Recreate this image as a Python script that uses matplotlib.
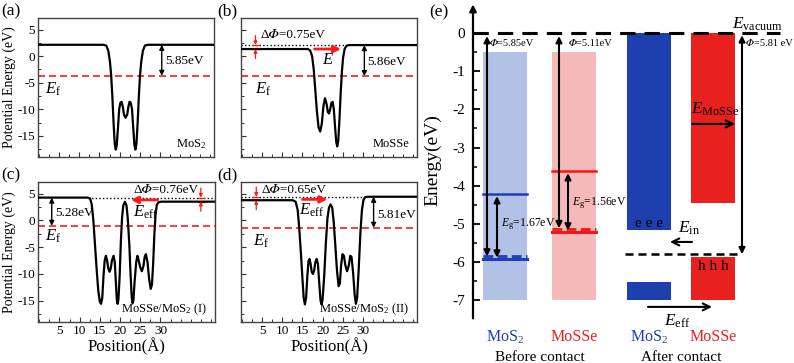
import matplotlib
matplotlib.use('Agg')
import matplotlib.pyplot as plt
from matplotlib.ticker import FixedLocator, MultipleLocator

plt.rcParams['font.family'] = ['Liberation Serif', 'STIXGeneral', 'DejaVu Serif']
plt.rcParams['mathtext.fontset'] = 'custom'
plt.rcParams['mathtext.rm'] = 'Liberation Serif'
plt.rcParams['mathtext.it'] = 'Liberation Serif:italic'
plt.rcParams['mathtext.bf'] = 'Liberation Serif:bold'
plt.rcParams['axes.unicode_minus'] = False

PHI = '\U0001D6F7'   # mathematical italic capital phi

# ---------------- data: planar-averaged potentials ----------------
pos_a = [-0.3, 16.0, 16.7, 17.2, 17.6, 17.9, 18.2, 18.5, 18.8, 19.05, 19.3, 19.6, 19.9, 20.2, 20.5,
         20.8, 21.1, 21.5, 21.9, 22.2, 22.5, 22.8, 23.1, 23.4, 23.7, 23.95, 24.2, 24.5, 24.8, 25.1,
         25.4, 25.8, 26.3, 27.0, 43.5]
pot_a = [2.15, 2.15, 2.0, 1.0, -1.0, -3.5, -7.5, -12.5, -16.5, -17.6, -16.8, -13.5, -10.0, -8.8, -8.6,
         -9.5, -11.0, -11.6, -11.0, -9.5, -8.6, -8.8, -10.0, -13.5, -16.8, -17.6, -16.5, -12.5, -7.5, -3.5,
         -1.0, 1.0, 2.0, 2.15, 2.15]

pos_b = [-0.3, 16.3, 16.9, 17.4, 17.8, 18.2, 18.6, 19.0, 19.4, 19.8, 20.2, 20.6, 21.0, 21.3, 21.6,
         21.9, 22.2, 22.5, 22.8, 23.1, 23.4, 23.65, 23.9, 24.2, 24.5, 24.8, 25.1, 25.5, 26.0, 26.7, 43.5]
pot_b = [1.35, 1.35, 1.1, 0.0, -2.5, -6.5, -10.5, -13.4, -14.2, -12.8, -9.5, -7.9, -9.0, -10.5, -10.8,
         -10.0, -8.8, -8.6, -10.0, -13.2, -16.2, -17.0, -16.0, -12.0, -7.0, -3.0, -0.3, 1.4, 2.0, 2.1, 2.1]

pos_c = [-0.3, 12.0, 12.6, 13.0, 13.4, 13.8, 14.2, 14.6, 15.0, 15.3, 15.6, 15.9, 16.2, 16.5, 16.8,
         17.1, 17.4, 17.7, 18.0, 18.4, 18.7, 19.0, 19.2, 19.4, 19.6, 19.9, 20.2, 20.5, 20.8, 21.2,
         21.6, 21.9, 22.3, 22.6, 22.9, 23.1, 23.3, 23.6, 24.0, 24.3, 24.6, 25.0, 25.4, 25.8, 26.1,
         26.4, 26.8, 27.2, 27.6, 27.9, 28.2, 28.5, 28.8, 29.1, 29.5, 30.2, 43.5]
pot_c = [4.28, 4.28, 4.1, 3.0, 0.0, -4.5, -9.0, -13.0, -15.2, -15.6, -14.5, -10.5, -7.5, -6.6, -7.5,
         -9.0, -9.6, -9.0, -7.5, -6.6, -7.8, -12.0, -14.8, -15.6, -14.8, -10.5, -4.0, 0.5, 2.8, 3.5,
         2.8, 0.5, -4.5, -10.0, -14.5, -15.5, -15.0, -11.5, -7.8, -6.6, -7.4, -8.8, -9.5, -8.5, -6.8,
         -6.3, -7.8, -11.0, -12.8, -12.0, -8.0, -2.5, 1.2, 2.9, 3.4, 3.52, 3.52]

pos_d = [-0.3, 12.6, 13.3, 13.8, 14.2, 14.6, 15.0, 15.3, 15.6, 15.9, 16.2, 16.5, 16.75, 17.0, 17.3,
         17.6, 17.9, 18.2, 18.55, 18.85, 19.2, 19.5, 19.75, 20.0, 20.4, 20.8, 21.2, 21.6, 22.0, 22.4,
         22.8, 23.2, 23.6, 24.0, 24.3, 24.6, 24.95, 25.3, 25.7, 26.1, 26.5, 26.9, 27.2, 27.6, 28.0,
         28.3, 28.6, 29.0, 29.4, 29.8, 30.2, 30.6, 31.2, 43.5]
pot_d = [3.79, 3.79, 3.5, 2.0, -1.5, -6.0, -11.0, -14.5, -15.7, -14.5, -10.5, -7.6, -7.2, -8.0, -9.6,
         -10.0, -9.4, -7.8, -7.2, -8.2, -12.0, -15.0, -15.7, -14.8, -10.5, -4.5, 0.3, 2.4, 3.0, 2.4,
         -0.5, -5.0, -9.5, -12.3, -11.8, -8.5, -6.3, -6.6, -8.5, -9.5, -8.5, -6.6, -6.8, -9.8, -14.0,
         -15.6, -14.5, -9.0, -2.5, 2.0, 3.9, 4.35, 4.44, 4.44]

# vacuum levels (left, right), Fermi level, work function labels
vac_left = [2.15, 1.35, 4.28, 3.79]
vac_right = [2.15, 2.10, 3.52, 4.44]
fermi = [-3.70, -3.76, -1.00, -1.37]
wf_labels = ['5.85eV', '5.86eV', '5.28eV', '5.81eV']
dphi_labels = [None, '0.75eV', '0.76eV', '0.65eV']
system_names = ['MoS$_2$', 'MoSSe', 'MoSSe/MoS$_2$ (I)', 'MoSSe/MoS$_2$ (II)']
x_ticks = [5, 10, 15, 20, 25, 30]
y_ticks = [-15, -10, -5, 0, 5]

# ---------------- data: band alignment (panel e) ----------------
materials = ['MoS$_2$', 'MoSSe']
before_phi = [5.85, 5.11]
before_cbm = [-4.21, -3.61]
before_vbm = [-5.92, -5.22]
before_ef = [-5.83, -5.13]
before_eg = [1.67, 1.56]
before_top = -0.5
band_bottom = -7.0
after_cb_bottom = [-5.16, -4.45]
after_vb_top = [-6.52, -5.86]
after_ef = -5.79
after_phi = 5.81
e_ticks = [0, -1, -2, -3, -4, -5, -6, -7]

# ---------------- figure ----------------
W, H = 794, 363
fig = plt.figure(figsize=(W / 100, H / 100), dpi=100)


def px_axes(x0, y0, x1, y1):
    return fig.add_axes([x0 / W, 1 - y1 / H, (x1 - x0) / W, (y1 - y0) / H])


RED = '#ff1a1a'
boxes = [(38, 18, 214, 157), (241, 18, 417, 157), (38, 182, 215, 322), (241, 182, 417, 322)]
curves = [(pos_a, pot_a), (pos_b, pot_b), (pos_c, pot_c), (pos_d, pot_d)]
axes = []
for i, (box, (px, py)) in enumerate(zip(boxes, curves)):
    ax = px_axes(*box)
    axes.append(ax)
    ax.plot(px, py, color='k', lw=1.6, solid_joinstyle='round', zorder=3)
    ax.axhline(fermi[i], color=RED, lw=1.2, dashes=(4.2, 2.4), zorder=2)
    ax.set_xlim(-0.3, 43.5)
    ax.set_ylim(-19, 7.2)
    ax.xaxis.set_major_locator(FixedLocator(x_ticks))
    ax.xaxis.set_minor_locator(MultipleLocator(2.5))
    ax.yaxis.set_major_locator(FixedLocator(y_ticks))
    ax.yaxis.set_minor_locator(MultipleLocator(2.5))
    ax.tick_params(which='both', direction='in', top=False, right=False, labelsize=9.5, pad=2, color='#333')
    ax.tick_params(which='major', length=3.5, width=0.8)
    ax.tick_params(which='minor', length=2, width=0.7)
    for s in ax.spines.values():
        s.set_linewidth(1.0)
        s.set_color('#444')
    if i in (0, 1):
        ax.tick_params(labelbottom=False)
    if i in (1, 3):
        ax.tick_params(labelleft=False)
    if i in (0, 2):
        ax.set_ylabel('Potential Energy (eV)', fontsize=10, labelpad=1)
    if i in (2, 3):
        ax.set_xlabel('Position(Å)', fontsize=12, labelpad=1)
    ax.text(41.5, -17.2, system_names[i], fontsize=9, ha='right', va='baseline')


def dbl_arrow(ax, x, y0, y1, lw=1.0, ms=7):
    ax.annotate('', xy=(x, y1), xytext=(x, y0),
                arrowprops=dict(arrowstyle='<|-|>', color='k', lw=lw, mutation_scale=ms,
                                shrinkA=0, shrinkB=0))


def red_arrow(ax, x0, x1, y):
    ax.annotate('', xy=(x1, y), xytext=(x0, y),
                arrowprops=dict(arrowstyle='-|>', color=RED, lw=2.0, mutation_scale=10,
                                shrinkA=0, shrinkB=0), zorder=5)


def dphi_marker(ax, x, lo, hi):
    for tip, tail in ((hi, hi + 1.8), (lo, lo - 1.8)):
        ax.annotate('', xy=(x, tip), xytext=(x, tail),
                    arrowprops=dict(arrowstyle='-|>', color=RED, lw=0.9, mutation_scale=5,
                                    shrinkA=0, shrinkB=0))
        ax.plot([x - 0.8, x + 0.8], [tip, tip], color=RED, lw=0.9)


def dotted(ax, x0, x1, y):
    ax.plot([x0, x1], [y, y], color='k', lw=1.0, dashes=(1, 1.6), zorder=2)


# (a)
ax = axes[0]
dbl_arrow(ax, 30.5, vac_right[0], fermi[0])
ax.text(31.3, -0.9, wf_labels[0], fontsize=9.5, va='center')
ax.text(1.5, -6.2, '$E_{\\mathrm{f}}$', fontsize=12, va='center')

# (b)
ax = axes[1]
dotted(ax, -0.3, 25.7, vac_right[1])
dbl_arrow(ax, 30.4, vac_right[1], fermi[1])
ax.text(31.0, -1.0, wf_labels[1], fontsize=9.5, va='center')
dphi_marker(ax, 3.3, vac_left[1], vac_right[1])
ax.text(4.6, 4.0, 'Δ' + PHI + '=' + dphi_labels[1], fontsize=9.5, va='center')
red_arrow(ax, 18.0, 24.6, vac_left[1])
ax.text(21.3, -0.8, '$E$', fontsize=12, ha='center', va='center')
ax.text(3.2, -6.2, '$E_{\\mathrm{f}}$', fontsize=12, va='center')

# (c)
ax = axes[2]
dotted(ax, 12.0, 43.5, vac_left[2])
dbl_arrow(ax, 3.1, vac_left[2], fermi[2])
ax.text(3.9, 1.4, wf_labels[2], fontsize=9.5, va='center')
dphi_marker(ax, 40.0, vac_right[2], vac_left[2])
ax.text(31.3, 5.75, 'Δ' + PHI + '=' + dphi_labels[2], fontsize=9.5, ha='center', va='center')
red_arrow(ax, 29.3, 22.7, 3.85)
ax.text(26.4, 1.5, '$E_{\\mathrm{eff}}$', fontsize=12, ha='center', va='center')
ax.text(1.5, -3.0, '$E_{\\mathrm{f}}$', fontsize=12, va='center')

# (d)
ax = axes[3]
dotted(ax, -0.3, 31.0, vac_right[3])
dbl_arrow(ax, 32.7, vac_right[3], fermi[3])
ax.text(33.6, 1.1, wf_labels[3], fontsize=9.5, va='center')
dphi_marker(ax, 3.5, vac_left[3], vac_right[3])
ax.text(4.7, 5.75, 'Δ' + PHI + '=' + dphi_labels[3], fontsize=9.5, va='center')
red_arrow(ax, 15.0, 21.2, 3.95)
ax.text(17.3, 1.9, '$E_{\\mathrm{eff}}$', fontsize=12, ha='center', va='center')
ax.text(2.6, -3.9, '$E_{\\mathrm{f}}$', fontsize=12, va='center')

# ---------------- panel (e) ----------------
E_PX = 38.2   # pixels per eV
Y0 = 33       # pixel row of 0 eV
ax = px_axes(473, 0, W, H)
ax.set_xlim(0, W - 473)
ax.set_ylim(-(H - Y0) / E_PX, Y0 / E_PX)
for s in ax.spines.values():
    s.set_visible(False)
ax.set_xticks([])
ax.yaxis.set_major_locator(FixedLocator(e_ticks))
ax.yaxis.set_minor_locator(FixedLocator([-0.5 - k for k in range(7)]))
ax.tick_params(which='both', direction='in', labelsize=11, pad=6)
ax.tick_params(which='major', length=5, width=1.3)
ax.tick_params(which='minor', length=3, width=1.1)
ax.annotate('', xy=(0, 0.75), xytext=(0, -7.47),
            arrowprops=dict(arrowstyle='-|>', color='k', lw=1.6, mutation_scale=10, shrinkA=0, shrinkB=0))
ax.set_ylabel('Energy(eV)', fontsize=14, labelpad=0)
ax.yaxis.set_label_coords(-0.10, 0.56)

LB, LR = '#b2c2e6', '#f6b9b9'
DB, DR = '#1e3fae', '#e8201e'
before_x = [32, 101]
after_x = [176, 240]
bw = 44
light = [LB, LR]
dark = [DB, DR]
line_c = ['#1f3fb8', '#f01818']

# vacuum level
ax.plot([0, 307], [0, 0], color='k', lw=2.2, dashes=(5, 3), zorder=4)

# before contact
for j in range(2):
    ax.bar(before_x[j], before_top - band_bottom, bottom=band_bottom, width=bw, color=light[j], zorder=1)
    xl, xr = before_x[j] - bw / 2, before_x[j] + bw / 2
    ax.plot([xl, xr], [before_cbm[j]] * 2, color=line_c[j], lw=1.8, zorder=3)
    ax.plot([xl, xr], [before_vbm[j]] * 2, color=line_c[j], lw=2.2, zorder=3)
    ax.plot([xl, xr], [before_ef[j]] * 2, color=line_c[j], lw=2.0, dashes=(3.5, 1.6), zorder=3)

phi_x = [14, 86]
eg_x = [24, 95]
for j in range(2):
    dbl_arrow(ax, phi_x[j], -0.08, -before_phi[j], lw=1.5, ms=9)
    dbl_arrow(ax, eg_x[j], before_cbm[j] - 0.06, before_cbm[j] - before_eg[j], lw=1.5, ms=9)
ax.text(17, -0.27, PHI + '=%.2feV' % before_phi[0], fontsize=7.5, va='center')
ax.text(96, -0.27, PHI + '=%.2feV' % before_phi[1], fontsize=7.5, va='center')
ax.text(28, -5.0, '$E_{\\mathrm{g}}$=%.2feV' % before_eg[0], fontsize=8.5, va='center')
ax.text(99, -4.46, '$E_{\\mathrm{g}}$=%.2feV' % before_eg[1], fontsize=8.5, va='center')

# after contact
for j in range(2):
    ax.bar(after_x[j], after_cb_bottom[j], bottom=0, width=bw, color=dark[j], zorder=1)
    ax.bar(after_x[j], band_bottom - after_vb_top[j], bottom=after_vb_top[j], width=bw, color=dark[j], zorder=1)
ax.plot([152, 269], [after_ef] * 2, color='k', lw=1.8, dashes=(3.2, 2), zorder=4)
dbl_arrow(ax, 269, -0.06, after_ef, lw=1.5, ms=9)
ax.text(273, -0.27, PHI + '=%.2f eV' % after_phi, fontsize=7.5, va='center')
ax.text(259, 0.24, '$E_{\\mathrm{vacuum}}$', fontsize=12.5, va='center')
ax.text(218, -2.0, '$E_{\\mathrm{MoSSe}}$', fontsize=12.5, va='center')
ax.annotate('', xy=(262, -2.38), xytext=(219, -2.38),
            arrowprops=dict(arrowstyle='->,head_length=0.5,head_width=0.25', color='k', lw=1.5,
                            shrinkA=0, shrinkB=0))
ax.text(after_x[0], -5.0, 'e e e', fontsize=11, ha='center', va='center')
ax.text(205, -5.1, '$E_{\\mathrm{in}}$', fontsize=12.5, va='center')
ax.annotate('', xy=(197, -5.47), xytext=(219, -5.47),
            arrowprops=dict(arrowstyle='->,head_length=0.5,head_width=0.25', color='k', lw=1.5,
                            shrinkA=0, shrinkB=0))
ax.text(after_x[1], -6.12, 'h h h', fontsize=11, ha='center', va='center')
ax.annotate('', xy=(239, -7.17), xytext=(175, -7.17),
            arrowprops=dict(arrowstyle='->,head_length=0.5,head_width=0.25', color='k', lw=1.5,
                            shrinkA=0, shrinkB=0))
ax.text(204, -7.55, '$E_{\\mathrm{eff}}$', fontsize=12.5, ha='center', va='center')

for xs in (before_x, after_x):
    for j in range(2):
        ax.text(xs[j], -7.96, materials[j], color=dark[j], fontsize=11.5, ha='center', va='center')
ax.text(sum(before_x) / 2, -8.5, 'Before contact', fontsize=11, ha='center', va='center')
ax.text(sum(after_x) / 2, -8.5, 'After contact', fontsize=11, ha='center', va='center')

# panel letters
for lab, (x, y) in zip(['(a)', '(b)', '(c)', '(d)', '(e)'],
                       [(11, 11), (227, 11), (11, 175), (227, 175), (439, 12)]):
    fig.text(x / W, 1 - y / H, lab, fontsize=12.5, ha='center', va='center')

fig.savefig('out.png', dpi=100)
